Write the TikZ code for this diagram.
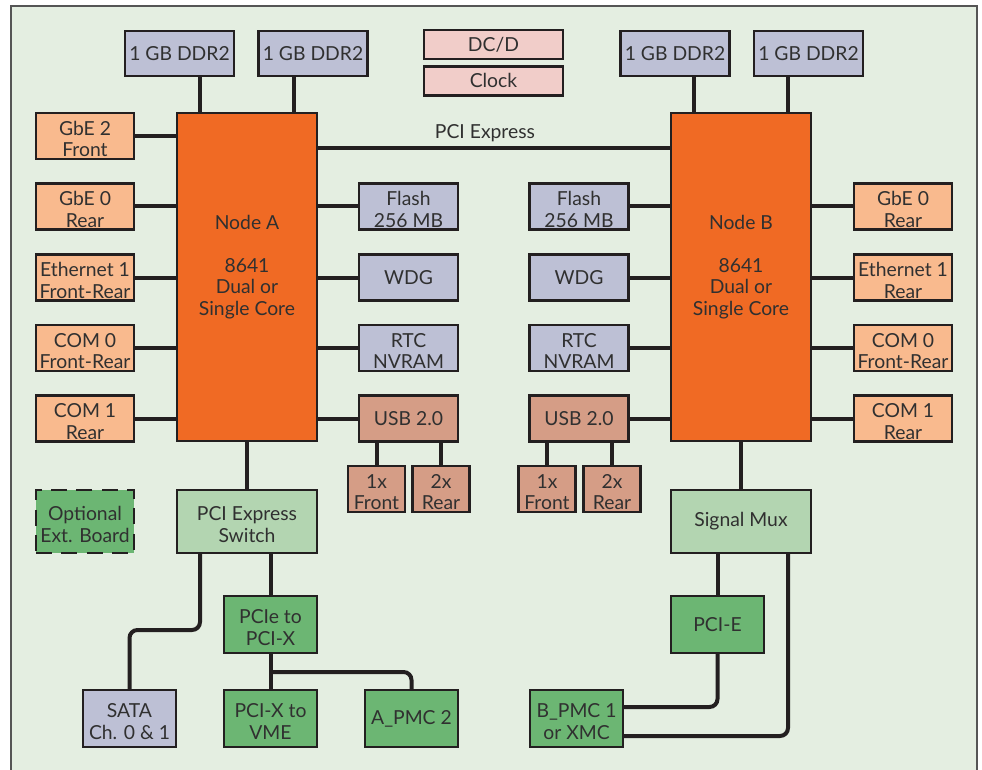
\documentclass[tikz,border=0pt]{standalone}
\usepackage{fontspec}
\setmainfont{Lato}
\usepackage{xcolor}
\usetikzlibrary{positioning}
\definecolor{boardbg}{HTML}{E4EEE1}
\definecolor{boardframe}{HTML}{555555}
\definecolor{wirecol}{HTML}{231F20}
\definecolor{txtcol}{HTML}{303030}
\definecolor{cpuorange}{HTML}{F06A24}
\definecolor{ioorange}{HTML}{F9BA8E}
\definecolor{memblue}{HTML}{BDC0D5}
\definecolor{pwrpink}{HTML}{F1CDC9}
\definecolor{usbtan}{HTML}{D59D86}
\definecolor{hubgreen}{HTML}{B3D5B1}
\definecolor{pcigreen}{HTML}{6CB673}

\begin{document}
\begin{tikzpicture}[
    x=0.75pt, y=-0.75pt,
    node distance=3.75pt,
    lbl/.style={align=center, text=txtcol, font=\fontsize{14.5}{16}\selectfont},
    blk/.style={lbl, draw=wirecol, line width=1.8pt, inner sep=1pt},
    twoline/.style={text height=31pt},
    cpu/.style={blk, fill=cpuorange, minimum width=105pt, minimum height=246pt},
    ddr/.style={blk, fill=memblue, minimum width=81.75pt, minimum height=33.75pt},
    pwr/.style={blk, fill=pwrpink, minimum width=104.25pt, minimum height=21.75pt},
    io/.style={blk, fill=ioorange, minimum width=73.5pt, minimum height=34.5pt},
    mem/.style={blk, fill=memblue, minimum width=74.25pt, minimum height=34.5pt},
    usb/.style={blk, fill=usbtan, minimum width=74.25pt, minimum height=34.5pt},
    usbport/.style={blk, twoline, fill=usbtan, minimum width=43pt, minimum height=34.5pt},
    hub/.style={blk, fill=hubgreen, minimum width=105pt, minimum height=47.25pt},
    pci/.style={blk, fill=pcigreen, minimum width=69.75pt, minimum height=42.75pt},
    wire/.style={draw=wirecol, line width=3pt}
  ]
  \useasboundingbox (0,0) rectangle (982,770);
  \fill[boardbg] (11,6) rectangle (977,790);
  \draw[boardframe, line width=1.2pt] (11,790) -- (11,6) -- (977,6) -- (977,790);

  \node[cpu, label={[lbl, yshift=7.5pt]center:{Node A\\[16pt]8641\\Dual or\\Single Core}}] (nodeA) at (247,277) {};
  \node[cpu, label={[lbl, yshift=7.5pt]center:{Node B\\[16pt]8641\\Dual or\\Single Core}}] (nodeB) at (741,277) {};

  \node[ddr] (ddrAa) at (179.5,53.5) {1 GB DDR2};
  \node[ddr] (ddrAb) at (313,53.5) {1 GB DDR2};
  \node[ddr] (ddrBa) at (675,53.5) {1 GB DDR2};
  \node[ddr] (ddrBb) at (808.5,53.5) {1 GB DDR2};
  \node[pwr] (dcd) at (493.5,44.5) {DC/D};
  \node[pwr, below=of dcd] (clock) {Clock};

  \node[io, twoline] (gbeTwoA) at (85,136) {GbE 2\\Front};
  \node[io, twoline] (gbeZeroA) at (85,206.5) {GbE 0\\Rear};
  \node[io, twoline] (ethA) at (85,277.5) {Ethernet 1\\Front-Rear};
  \node[io, twoline] (comZeroA) at (85,348) {COM 0\\Front-Rear};
  \node[io, twoline] (comOneA) at (85,418.5) {COM 1\\Rear};
  \node[mem, twoline] (flashA) at (408.5,206.5) {Flash\\256 MB};
  \node[mem] (wdgA) at (408.5,277.5) {WDG};
  \node[mem, twoline] (rtcA) at (408.5,348) {RTC\\NVRAM};
  \node[usb] (usbA) at (408.5,418.5) {USB 2.0};
  \node[usbport] (usbFrontA) at (376.5,489) {1x\\Front};
  \node[usbport] (usbRearA) at (441,489) {2x\\Rear};

  \node[mem, twoline] (flashB) at (579,206.5) {Flash\\256 MB};
  \node[mem] (wdgB) at (579,277.5) {WDG};
  \node[mem, twoline] (rtcB) at (579,348) {RTC\\NVRAM};
  \node[usb] (usbB) at (579,418.5) {USB 2.0};
  \node[usbport] (usbFrontB) at (547,489) {1x\\Front};
  \node[usbport] (usbRearB) at (612,489) {2x\\Rear};
  \node[io, twoline] (gbeZeroB) at (903,206.5) {GbE 0\\Rear};
  \node[io, twoline] (ethB) at (903,277.5) {Ethernet 1\\Rear};
  \node[io, twoline] (comZeroB) at (903,348) {COM 0\\Front-Rear};
  \node[io, twoline] (comOneB) at (903,418.5) {COM 1\\Rear};

  \node[blk, twoline, fill=pcigreen, dashed, dash pattern=on 12pt off 7pt, minimum width=73.5pt, minimum height=47.25pt] (optBoard) at (85,521.5) {Optional\\Ext. Board};
  \node[hub, twoline] (pcieSw) at (247,521.5) {PCI Express\\Switch};
  \node[hub] (sigMux) at (741,521.5) {Signal Mux};
  \node[pci, twoline] (pcieX) at (270.5,624.5) {PCIe to\\PCI-X};
  \node[pci] (pciE) at (717.5,624.5) {PCI-E};
  \node[pci, twoline, fill=memblue] (sata) at (129.5,718.5) {SATA\\Ch. 0 \& 1};
  \node[pci, twoline] (vme) at (270.5,718.5) {PCI-X to\\VME};
  \node[pci] (apmc) at (411.5,718.5) {A\_PMC 2};
  \node[pci, twoline] (bpmc) at (576.5,718.5) {B\_PMC 1\\or XMC};

  \draw[wire] (ddrAa.south -| 200,0) -- (nodeA.north -| 200,0);
  \draw[wire] (ddrAb.south -| 294,0) -- (nodeA.north -| 294,0);
  \draw[wire] (ddrBa.south -| 694,0) -- (nodeB.north -| 694,0);
  \draw[wire] (ddrBb.south -| 788,0) -- (nodeB.north -| 788,0);
  \draw[wire] (nodeA.east |- 0,148) -- node[lbl, above, xshift=-6.75pt]{PCI Express} (nodeB.west |- 0,148);

  \foreach \b in {gbeTwoA, gbeZeroA, ethA, comZeroA, comOneA}
    \draw[wire] (\b.east) -- (nodeA.west |- \b.east);
  \foreach \b in {flashA, wdgA, rtcA, usbA}
    \draw[wire] (\b.west) -- (nodeA.east |- \b.west);
  \foreach \b in {gbeZeroB, ethB, comZeroB, comOneB}
    \draw[wire] (\b.west) -- (nodeB.east |- \b.west);
  \foreach \b in {flashB, wdgB, rtcB, usbB}
    \draw[wire] (\b.east) -- (nodeB.west |- \b.east);
  \foreach \b in {usbFrontA, usbRearA}
    \draw[wire] (\b.north) -- (usbA.south -| \b.north);
  \foreach \b in {usbFrontB, usbRearB}
    \draw[wire] (\b.north) -- (usbB.south -| \b.north);

  \draw[wire] (nodeA) -- (pcieSw);
  \draw[wire] (nodeB) -- (sigMux);
  \draw[wire] (pcieSw.south -| pcieX.north) -- (pcieX.north);
  \draw[wire, rounded corners=6pt] (pcieSw.south -| 200,0) -- (200,630) -- (sata.north |- 0,630) -- (sata.north);
  \draw[wire] (pcieX) -- (vme);
  \draw[wire, rounded corners=6pt] (pcieX.south |- 0,672) -| (apmc.north);
  \draw[wire] (sigMux.south -| pciE.north) -- (pciE.north);
  \draw[wire, rounded corners=6pt] (pciE.south) |- (bpmc.east |- 0,707);
  \draw[wire, rounded corners=6pt] (sigMux.south -| 788,0) |- (bpmc.east |- 0,736);
\end{tikzpicture}
\end{document}
